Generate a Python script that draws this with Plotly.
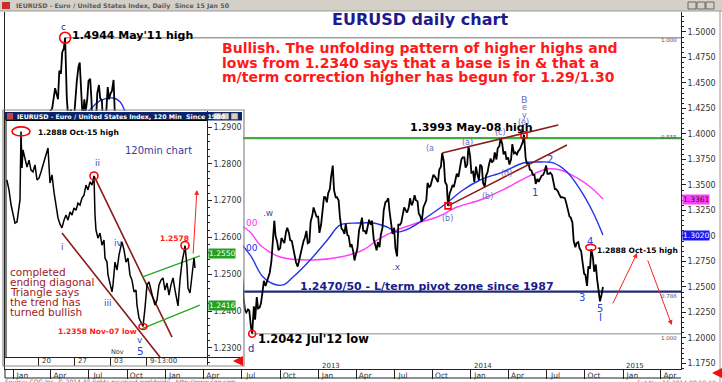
import plotly.graph_objects as go
import pandas as pd

W, H = 722, 382
FONT = "DejaVu Sans"
NAVY = "#1c1c8c"
RED = "#ff1a1a"
PURP = "#6c6cc0"
WAVE = "#2a46e0"
BROWN = "#8b1a1a"

# ---------------- main daily chart: Monday / Thursday readings ----------------
main_start = "2011-03-28"
main_week_pairs = [
    # 2011 Mar 28 .. Apr 25
    (1.4080, 1.4230), (1.4250, 1.4330), (1.4450, 1.4400), (1.4340, 1.4620), (1.4590, 1.4800),
    # May 2 .. May 30
    (1.4840, 1.4944), (1.4350, 1.4180), (1.4180, 1.4240), (1.3980, 1.4140), (1.4390, 1.4520),
    # Jun 6 .. Jun 27
    (1.4660, 1.4700), (1.4380, 1.4130), (1.4340, 1.4220), (1.4340, 1.4520),
    # Jul 4 .. Jul 25
    (1.4540, 1.4340), (1.3900, 1.4160), (1.4130, 1.4400), (1.4480, 1.4350),
    # Aug 1 .. Aug 29
    (1.4330, 1.4080), (1.4220, 1.4180), (1.4460, 1.4340), (1.4400, 1.4420), (1.4530, 1.4200),
    # Sep 5 .. Sep 26
    (1.3960, 1.3880), (1.3660, 1.3790), (1.3680, 1.3480), (1.3560, 1.3600),
    # Oct 3 .. Oct 31
    (1.3250, 1.3400), (1.3620, 1.3700), (1.3760, 1.3740), (1.3900, 1.4180), (1.3700, 1.3650),
    # Nov 7 .. Nov 28
    (1.3790, 1.3520), (1.3620, 1.3460), (1.3480, 1.3350), (1.3330, 1.3500),
    # Dec 5 .. Dec 26
    (1.3410, 1.3360), (1.3200, 1.3000), (1.3050, 1.3060), (1.3040, 1.2900),
    # 2012 Jan 2 .. Jan 30
    (1.2940, 1.2790), (1.2750, 1.2760), (1.2680, 1.2930), (1.3000, 1.3080), (1.3100, 1.3150),
    # Feb 6 .. Feb 27
    (1.3150, 1.3250), (1.3150, 1.3090), (1.3250, 1.3380), (1.3420, 1.3320),
    # Mar 5 .. Mar 26
    (1.3180, 1.3200), (1.3100, 1.3180), (1.3240, 1.3290), (1.3380, 1.3310),
    # Apr 2 .. Apr 30
    (1.3330, 1.3080), (1.3090, 1.3160), (1.3100, 1.3180), (1.3170, 1.3230), (1.3200, 1.3070),
    # May 7 .. May 28
    (1.3020, 1.2940), (1.2820, 1.2660), (1.2700, 1.2620), (1.2520, 1.2370),
    # Jun 4 .. Jun 25
    (1.2450, 1.2560), (1.2510, 1.2630), (1.2660, 1.2560), (1.2500, 1.2480),
    # Jul 2 .. Jul 30
    (1.2610, 1.2400), (1.2270, 1.2250), (1.2280, 1.2270), (1.2110, 1.2042), (1.2310, 1.2180),
    # Aug 6 .. Aug 27
    (1.2400, 1.2290), (1.2300, 1.2340), (1.2460, 1.2560), (1.2510, 1.2550),
    # Sep 3 .. Sep 24
    (1.2600, 1.2640), (1.2750, 1.2920), (1.3150, 1.3000), (1.2940, 1.2860),
    # Oct 1 .. Oct 29
    (1.2880, 1.2980), (1.2950, 1.2930), (1.3040, 1.3080), (1.3030, 1.2960), (1.2950, 1.2890),
    # Nov 5 .. Nov 26
    (1.2790, 1.2740), (1.2700, 1.2760), (1.2820, 1.2880), (1.2950, 1.2980),
    # Dec 3 .. Dec 31
    (1.3050, 1.2930), (1.2940, 1.3140), (1.3200, 1.3280), (1.3230, 1.3190), (1.3190, 1.3030),
    # 2013 Jan 7 .. Jan 28
    (1.3110, 1.3260), (1.3380, 1.3380), (1.3330, 1.3420), (1.3460, 1.3580),
    # Feb 4 .. Feb 25
    (1.3690, 1.3450), (1.3380, 1.3380), (1.3350, 1.3190), (1.3070, 1.3060),
    # Mar 4 .. Mar 25
    (1.3020, 1.3120), (1.3010, 1.3000), (1.2890, 1.2920), (1.2850, 1.2760),
    # Apr 1 .. Apr 29
    (1.2850, 1.2880), (1.3060, 1.3100), (1.3180, 1.3050), (1.3050, 1.3020), (1.3100, 1.3160),
    # May 6 .. May 27
    (1.3110, 1.3150), (1.2970, 1.2910), (1.2860, 1.2940), (1.2890, 1.3010),
    # Jun 3 .. Jun 24
    (1.3080, 1.3250), (1.3330, 1.3340), (1.3370, 1.3240), (1.3110, 1.3020),
    # Jul 1 .. Jul 29
    (1.3080, 1.2880), (1.2800, 1.3110), (1.3110, 1.3130), (1.3220, 1.3280), (1.3250, 1.3230),
    # Aug 5 .. Aug 26
    (1.3280, 1.3370), (1.3300, 1.3330), (1.3400, 1.3350), (1.3340, 1.3220),
    # Sep 2 .. Sep 30
    (1.3190, 1.3140), (1.3280, 1.3310), (1.3350, 1.3520), (1.3480, 1.3490), (1.3540, 1.3600),
    # Oct 7 .. Oct 28
    (1.3580, 1.3560), (1.3530, 1.3650), (1.3680, 1.3814), (1.3730, 1.3530),
    # Nov 4 .. Nov 25
    (1.3500, 1.3295), (1.3420, 1.3450), (1.3500, 1.3480), (1.3560, 1.3610),
    # Dec 2 .. Dec 30
    (1.3580, 1.3670), (1.3750, 1.3770), (1.3770, 1.3670), (1.3700, 1.3880), (1.3780, 1.3620),
    # 2014 Jan 6 .. Jan 27
    (1.3630, 1.3530), (1.3680, 1.3610), (1.3550, 1.3700), (1.3680, 1.3520),
    # Feb 3 .. Feb 24
    (1.3480, 1.3590), (1.3630, 1.3700), (1.3760, 1.3720), (1.3740, 1.3820),
    # Mar 3 .. Mar 31
    (1.3750, 1.3860), (1.3880, 1.3960), (1.3900, 1.3800), (1.3830, 1.3750), (1.3770, 1.3700),
    # Apr 7 .. Apr 28
    (1.3750, 1.3900), (1.3810, 1.3820), (1.3800, 1.3830), (1.3850, 1.3880),
    # May 5 .. May 26
    (1.3920, 1.3993), (1.3760, 1.3710), (1.3710, 1.3650), (1.3640, 1.3600),
    # Jun 2 .. Jun 30
    (1.3600, 1.3510), (1.3560, 1.3530), (1.3570, 1.3590), (1.3600, 1.3630), (1.3690, 1.3610),
    # Jul 7 .. Jul 28
    (1.3610, 1.3620), (1.3600, 1.3530), (1.3460, 1.3460), (1.3440, 1.3410),
    # Aug 4 .. Aug 25
    (1.3380, 1.3380), (1.3370, 1.3370), (1.3310, 1.3250), (1.3190, 1.3180),
    # Sep 1 .. Sep 29
    (1.3130, 1.2950), (1.2890, 1.2930), (1.2940, 1.2880), (1.2850, 1.2750), (1.2630, 1.2620),
    # Oct 6 .. Oct 27
    (1.2510, 1.2700), (1.2680, 1.2870), (1.2790, 1.2650), (1.2720, 1.2580),
    # Nov 3 .. Nov 10
    (1.2480, 1.2360), (1.2430, 1.2500),
]

ma_blue_dates = ["2011-06-10", "2011-07-03", "2011-07-27", "2011-08-28", "2011-09-14", "2011-09-26",
                 "2011-10-20", "2011-12-15", "2012-02-15", "2012-04-15", "2012-06-10", "2012-07-21",
                 "2012-08-19", "2012-09-15", "2012-10-08", "2012-11-01", "2012-12-12", "2013-01-22",
                 "2013-02-22", "2013-04-04", "2013-05-12", "2013-06-14", "2013-07-08", "2013-08-08",
                 "2013-09-25", "2013-11-04", "2013-12-13", "2014-01-23", "2014-03-18", "2014-05-06",
                 "2014-06-09", "2014-07-17", "2014-08-19", "2014-09-20", "2014-10-21", "2014-11-13"]
ma_blue_vals = [1.4137, 1.4235, 1.4324, 1.4353, 1.4314, 1.4216,
                1.3980, 1.3600, 1.3200, 1.3150, 1.3000, 1.2814,
                1.2608, 1.2529, 1.2520, 1.2598, 1.2765, 1.2961,
                1.3108, 1.3127, 1.3127, 1.3088, 1.3039, 1.3078,
                1.3206, 1.3324, 1.3451, 1.3549, 1.3627, 1.3716,
                1.3725, 1.3716, 1.3627, 1.3451, 1.3225, 1.3010]

ma_mag_dates = ["2012-05-01", "2012-07-21", "2012-08-14", "2012-10-01", "2012-12-20", "2013-02-22",
                "2013-04-18", "2013-05-22", "2013-07-08", "2013-08-25", "2013-10-12", "2013-11-29",
                "2014-01-23", "2014-03-18", "2014-05-15", "2014-07-02", "2014-08-03", "2014-09-12",
                "2014-10-14", "2014-11-13"]
ma_mag_vals = [1.3250, 1.3039, 1.2912, 1.2794, 1.2765, 1.2794,
               1.2863, 1.2961, 1.3059, 1.3127, 1.3186, 1.3284,
               1.3353, 1.3451, 1.3578, 1.3657, 1.3647, 1.3569,
               1.3480, 1.3363]

# key levels / points
may11_high_date, may11_high = "2011-05-05", 1.4944
jul12_low_date, jul12_low = "2012-07-26", 1.2042
may14_high_date, may14_high = "2014-05-08", 1.3993
b_low_date, b_low = "2013-11-07", 1.3295
oct15_date, oct15_high = "2014-10-15", 1.2888
green_level = 1.3960
pivot_level = 1.2455
levels_start = "2012-01-01"
main_x_range = ["2010-12-12", "2015-05-19"]
main_y_range = [1.1696, 1.5196]

upper_brown_x, upper_brown_y = ["2013-10-24", "2014-07-29"], [1.3814, 1.4088]
lower_brown_x, lower_brown_y = ["2013-11-07", "2014-08-19"], [1.3295, 1.3892]
proj_up = (["2014-12-05", "2015-02-03"], [1.2324, 1.2833])
proj_down = (["2015-02-27", "2015-04-27"], [1.2775, 1.2127])

main_yticks = [1.1750, 1.2000, 1.2250, 1.2500, 1.2750, 1.3000, 1.3250, 1.3500,
               1.3750, 1.4000, 1.4250, 1.4500, 1.4750, 1.5000]
main_xticks = ["2011-01-01", "2011-04-01", "2011-07-01", "2011-10-01",
               "2012-01-01", "2012-04-01", "2012-07-01", "2012-10-01",
               "2013-01-01", "2013-04-01", "2013-07-01", "2013-10-01",
               "2014-01-01", "2014-04-01", "2014-07-01", "2014-10-01",
               "2015-01-01", "2015-04-01"]
main_xticktext = ["Jan", "Apr", "Jul", "Oct"] * 4 + ["Jan", "Apr"]
year_labels = ["2013", "2014", "2015"]
year_dates = ["2013-01-01", "2014-01-01", "2015-01-01"]

# ---------------- inset: 120 min chart ----------------
inset_times = [
    "2014-10-13 13:00", "2014-10-13 20:00", "2014-10-14 03:00", "2014-10-14 09:20", "2014-10-14 16:00",
    "2014-10-14 22:40", "2014-10-15 05:20", "2014-10-15 08:40", "2014-10-15 12:00", "2014-10-15 15:20",
    "2014-10-15 18:40", "2014-10-16 01:20", "2014-10-16 08:00", "2014-10-16 14:40", "2014-10-16 21:20",
    "2014-10-17 04:00", "2014-10-17 10:40", "2014-10-17 17:20", "2014-10-20 00:00", "2014-10-20 06:40",
    "2014-10-20 13:20", "2014-10-20 20:00", "2014-10-21 02:40", "2014-10-21 06:00", "2014-10-21 12:40",
    "2014-10-21 19:20", "2014-10-22 02:00", "2014-10-22 08:40", "2014-10-22 15:20", "2014-10-22 22:00",
    "2014-10-23 04:40", "2014-10-23 11:20", "2014-10-23 18:00", "2014-10-24 00:40", "2014-10-24 07:20",
    "2014-10-24 14:00", "2014-10-24 20:40", "2014-10-27 03:20", "2014-10-27 10:00", "2014-10-27 16:40",
    "2014-10-27 23:20", "2014-10-28 06:00", "2014-10-28 12:40", "2014-10-28 19:20", "2014-10-29 02:00",
    "2014-10-29 08:40", "2014-10-29 15:20", "2014-10-29 18:40", "2014-10-29 22:00", "2014-10-30 04:40",
    "2014-10-30 11:20", "2014-10-30 18:00", "2014-10-31 00:40", "2014-10-31 04:00", "2014-10-31 10:40",
    "2014-10-31 14:00", "2014-10-31 20:40", "2014-11-03 03:20", "2014-11-03 06:40", "2014-11-03 13:20",
    "2014-11-03 20:00", "2014-11-04 02:40", "2014-11-04 09:20", "2014-11-04 12:40", "2014-11-04 19:20",
    "2014-11-05 02:00", "2014-11-05 08:40", "2014-11-05 15:20", "2014-11-05 22:00", "2014-11-06 04:40",
    "2014-11-06 11:20", "2014-11-06 14:40", "2014-11-06 21:20", "2014-11-07 04:00", "2014-11-07 10:40",
    "2014-11-07 17:20", "2014-11-10 00:00", "2014-11-10 06:40", "2014-11-10 13:20", "2014-11-10 20:00",
    "2014-11-11 02:40", "2014-11-11 09:20", "2014-11-11 16:00", "2014-11-11 22:40", "2014-11-12 05:20",
    "2014-11-12 12:00", "2014-11-12 18:40", "2014-11-13 01:20", "2014-11-13 08:00", "2014-11-13 14:40",
    "2014-11-13 21:20", "2014-11-14 04:00", "2014-11-14 07:20", "2014-11-14 14:00", "2014-11-14 20:40",
    "2014-11-17 03:20", "2014-11-17 06:40", "2014-11-17 13:20", "2014-11-17 16:40", "2014-11-17 23:20",
    "2014-11-18 06:00", "2014-11-18 12:40", "2014-11-18 16:00",
]
inset_vals = [
    1.2756, 1.2729, 1.2688, 1.2661, 1.2639, 1.2642, 1.2674, 1.2702, 1.2888, 1.2789,
    1.2838, 1.2818, 1.2791, 1.2810, 1.2783, 1.2778, 1.2797, 1.2756, 1.2761, 1.2778,
    1.2797, 1.2816, 1.2832, 1.2843, 1.2748, 1.2770, 1.2723, 1.2683, 1.2653, 1.2636,
    1.2626, 1.2647, 1.2661, 1.2647, 1.2669, 1.2661, 1.2680, 1.2674, 1.2693, 1.2688,
    1.2707, 1.2715, 1.2742, 1.2729, 1.2751, 1.2742, 1.2767, 1.2661, 1.2620, 1.2598,
    1.2612, 1.2579, 1.2593, 1.2544, 1.2533, 1.2498, 1.2471, 1.2452, 1.2471, 1.2533,
    1.2511, 1.2552, 1.2577, 1.2588, 1.2566, 1.2533, 1.2544, 1.2498, 1.2484, 1.2452,
    1.2457, 1.2416, 1.2381, 1.2370, 1.2358, 1.2408, 1.2471, 1.2479, 1.2452, 1.2435,
    1.2416, 1.2430, 1.2471, 1.2484, 1.2490, 1.2457, 1.2476, 1.2443, 1.2471, 1.2490,
    1.2457, 1.2430, 1.2414, 1.2484, 1.2533, 1.2560, 1.2578, 1.2520, 1.2462, 1.2449,
    1.2498, 1.2544, 1.2517,
]
inset_oct15 = ("2014-10-15 12:00", 1.2888)
inset_ii = ("2014-10-29 15:20", 1.2767)
inset_low = ("2014-11-07 10:40", 1.2358)
inset_high2 = ("2014-11-17 06:40", 1.2578)
inset_brown_low = (["2014-10-23 04:40", "2014-11-11 19:12"], [1.2612, 1.2275])
inset_brown_up = (["2014-10-29 15:20", "2014-11-13 11:20"], [1.2767, 1.2329])
inset_green_up = (["2014-11-07 07:20", "2014-11-19 08:00"], [1.2492, 1.2550])
inset_green_low = (["2014-11-07 07:20", "2014-11-19 08:00"], [1.2352, 1.2416])
inset_arrow = (["2014-11-18 09:36", "2014-11-18 22:30"], [1.2552, 1.2729])
inset_x_range = ["2014-10-13 06:43", "2014-11-27 08:00"]
inset_y_range = [1.22533, 1.29435]
inset_yticks = [1.2300, 1.2400, 1.2500, 1.2600, 1.2700, 1.2800, 1.2900]
inset_xticks = ["2014-10-20", "2014-10-27", "2014-11-03", "2014-11-10"]
inset_xticktext = ["20", "27", "03", "9-13:00"]

# ---------------- build figure ----------------
main_dates, main_vals = [], []
for i, (a, b) in enumerate(main_week_pairs):
    mon = pd.Timestamp(main_start) + pd.Timedelta(weeks=i)
    main_dates += [mon, mon + pd.Timedelta(days=3)]
    main_vals += [a, b]

def fx(x):
    return x / W

def fy(y):
    return 1 - y / H

fig = go.Figure()

def line(x, y, color, width, xa="x", ya="y", dash=None, shape="linear"):
    fig.add_trace(go.Scatter(x=x, y=y, mode="lines", xaxis=xa, yaxis=ya, hoverinfo="skip",
                             line=dict(color=color, width=width, dash=dash, shape=shape)))

# main level lines
line([may11_high_date, main_x_range[1]], [may11_high] * 2, "#a0a0a0", 1.5)
line([levels_start, main_x_range[1]], [green_level] * 2, "#3fae3f", 2.2)
line([levels_start, main_x_range[1]], [pivot_level] * 2, "#1f2a7a", 2.2)
line([jul12_low_date, main_x_range[1]], [jul12_low] * 2, "#b0b0b0", 1.5)
# moving averages
line(ma_mag_dates, ma_mag_vals, "#ff3cff", 1.4, shape="spline")
line(ma_blue_dates, ma_blue_vals, "#2233ee", 1.4, shape="spline")
# price
line(main_dates, main_vals, "black", 1.8)
# channel lines
line(upper_brown_x, upper_brown_y, BROWN, 1.5)
line(lower_brown_x, lower_brown_y, BROWN, 1.5)
# markers
fig.add_trace(go.Scatter(x=[may11_high_date], y=[may11_high], mode="markers", hoverinfo="skip",
                         marker=dict(symbol="circle-open", size=11, color="red", line=dict(width=1.6))))
fig.add_trace(go.Scatter(x=[jul12_low_date], y=[jul12_low], mode="markers", hoverinfo="skip",
                         marker=dict(symbol="circle-open", size=7, color="red", line=dict(width=1.6))))
fig.add_trace(go.Scatter(x=[may14_high_date, b_low_date], y=[may14_high, b_low], mode="markers",
                         hoverinfo="skip",
                         marker=dict(symbol="square-open", size=6, color="red", line=dict(width=1.6))))

# inset traces
line(inset_brown_low[0], inset_brown_low[1], BROWN, 1.6, "x2", "y2")
line(inset_brown_up[0], inset_brown_up[1], BROWN, 1.6, "x2", "y2")
line(inset_green_up[0], inset_green_up[1], "#22aa22", 1.3, "x2", "y2")
line(inset_green_low[0], inset_green_low[1], "#22aa22", 1.3, "x2", "y2")
line(inset_times, inset_vals, "black", 1.5, "x2", "y2")
fig.add_trace(go.Scatter(x=[inset_ii[0], inset_high2[0]], y=[inset_ii[1], inset_high2[1]],
                         mode="markers", xaxis="x2", yaxis="y2", hoverinfo="skip",
                         marker=dict(symbol="circle-open", size=8, color="red", line=dict(width=1.6))))

# ---------------- annotations ----------------
ann = []

def T(text, x, y, size, color, bold=False, xa="left", ya="middle", bg=None):
    d = dict(text=f"<b>{text}</b>" if bold else text, x=fx(x), y=fy(y), xref="paper", yref="paper",
             xanchor=xa, yanchor=ya, showarrow=False, borderpad=0,
             font=dict(size=size, color=color, family=FONT))
    if bg:
        d["bgcolor"] = bg
    ann.append(d)

# window captions
T("IEURUSD - Euro / United States Index, Daily  Since 15 Jan 50", 15, 5.5, 6.3, "#5a5a5a", True)
T("IEURUSD - Euro / United States Index, 120 Min  Since 1900", 16, 116.5, 6.3, "white", True)

T("EURUSD daily chart", 420, 20, 16, NAVY, True, xa="center")
T("Bullish. The unfolding pattern of higher highs and", 221, 48, 14, RED, True)
T("lows from 1.2340 says that a base is in &amp; that a", 221, 63, 14, RED, True)
T("m/term correction higher has begun for 1.29/1.30", 221, 77, 14, RED, True)
T("1.4944 May'11 high", 71, 35, 11, "black", True)
T("c", 63, 27, 9, "#2030a0", xa="center")
T("1.3993 May-08 high", 409, 127, 11, "black", True)
T("1.2470/50 - L/term pivot zone since 1987", 299, 286, 11, NAVY, True)
T("1.2042 Jul'12 low", 257, 339, 11.5, "black", True)
T("d", 251, 348, 10, "#2030a0", xa="center")
T(".w", 268, 213, 9, "#4050a0", xa="center")
T(".x", 396, 267, 9, "#4050a0", xa="center")
T("00", 245, 223, 9, "#ff2cff")
T("00", 245, 248, 9, "#2233ee")
for s, x, y in [("(a", 430, 149), ("(a)", 467, 142), ("(c)", 500, 132), ("(b)", 447, 218),
                ("(b)", 487, 197), ("(d)", 507, 173), ("(e)", 523, 123), ("y", 524, 115),
                ("e", 524, 107)]:
    T(s, x, y, 8, PURP, xa="center")
T("B", 524, 99, 9.5, PURP, xa="center")
for s, x, y in [("1", 535, 192), ("2", 550, 159), ("3", 582, 297), ("4", 590, 242),
                ("5", 600, 308), ("I", 600, 317)]:
    T(s, x, y, 10, WAVE, xa="center")
T("1.2888 Oct-15 high", 596, 250, 7.5, "black", True)
for s, y in [("1.000", 40), ("0.555", 137), ("0.786", 296), ("1.000", 338)]:
    T(s, 678, y, 5.5, "#555", xa="right")
T("1.3361", 682, 199, 7.5, "#202020", bg="#ff3cff")
T("1.3020", 682, 235, 7.5, "white", bg="#1a1aee")

# inset texts
T("1.2888 Oct-15 high", 37, 132, 7.5, "black", True)
T("120min chart", 124, 150, 10, "#3a3a9a")
for s, x, y in [("ii", 97, 163), ("i", 62, 247), ("iv", 118, 243), ("iii", 108, 303),
                ("v", 140, 340)]:
    T(s, x, y, 9, "#3a4ab8", xa="center")
T("5", 140, 351, 10.5, "#2a46e0", xa="center")
T("1.2578", 159, 238, 7.5, RED, True)
T("1.2358 Nov-07 low", 57, 331, 7.5, RED, True)
for i, s in enumerate(["completed", "ending diagonal", "Triangle says", "the trend has",
                       "turned bullish"]):
    T(s, 9, 272 + 10 * i, 10.5, "#a02020")
T("1.2550", 208, 253, 7.5, "white", bg="#22a022")
T("1.2416", 208, 305, 7.5, "white", bg="#22a022")
T("Nov", 117, 352, 6.5, "#333", xa="center")
for d, s in zip(inset_xticks, inset_xticktext):
    ann.append(dict(text=s, x=d, y=fy(361), xref="x2", yref="paper", xanchor="left",
                    yanchor="middle", xshift=1, showarrow=False,
                    font=dict(size=7, color="#333", family=FONT)))
for d, s in zip(year_dates, year_labels):
    ann.append(dict(text=s, x=d, y=fy(366), xref="x", yref="paper", xanchor="left",
                    yanchor="middle", xshift=1, showarrow=False,
                    font=dict(size=7, color="#333", family=FONT)))
# footer
T("Source: CQG Inc. © 2014 All rights reserved worldwide.  http://www.cqg.com", 4, 382, 6, "#666", ya="middle")
T("Sat Nov 15 2014 08:59:19", 717, 382, 6, "#666", xa="right", ya="middle")

# arrows
for (xs, ys) in [proj_up, proj_down]:
    ann.append(dict(x=xs[1], y=ys[1], ax=xs[0], ay=ys[0], xref="x", yref="y", axref="x", ayref="y",
                    text="", showarrow=True, arrowhead=2, arrowsize=1, arrowwidth=1,
                    arrowcolor="#ff2020"))
ann.append(dict(x=inset_arrow[0][1], y=inset_arrow[1][1], ax=inset_arrow[0][0], ay=inset_arrow[1][0],
                xref="x2", yref="y2", axref="x2", ayref="y2", text="", showarrow=True,
                arrowhead=2, arrowsize=1, arrowwidth=1, arrowcolor="#ff2020"))
for px_, py_ in [(233, 361), (712, 373)]:
    ann.append(dict(x=fx(px_), y=fy(py_), xref="paper", yref="paper", ax=9, ay=0, text="",
                    showarrow=True, arrowhead=2, arrowsize=0.8, arrowwidth=2.5, arrowcolor="#ee1010"))

# ---------------- shapes (window chrome) ----------------
shapes = []

def R(x0, y0, x1, y1, fill=None, lc=None, lw=1, layer="above"):
    shapes.append(dict(type="rect", xref="paper", yref="paper", x0=fx(x0), x1=fx(x1), y0=fy(y0),
                       y1=fy(y1), fillcolor=fill, layer=layer,
                       line=dict(color=lc or "rgba(0,0,0,0)", width=lw if lc else 0)))

def L(x0, y0, x1, y1, c="black", w=1):
    shapes.append(dict(type="line", xref="paper", yref="paper", x0=fx(x0), x1=fx(x1), y0=fy(y0),
                       y1=fy(y1), layer="above", line=dict(color=c, width=w)))

R(0, 0, 722, 11, fill="#d4d0c8")
L(0, 11, 722, 11, "#9a9a9a")
R(2, 2, 10, 9, fill="#c83030")
for bx in (688, 697, 706):
    R(bx, 2, bx + 8, 9, fill="#d4d0c8", lc="#404040", lw=0.7)
L(5, 378, 681, 378, "#222")
L(5, 369, 5, 378, "#222")
L(720, 11, 720, 382, "#9a9a9a")
# inset window
R(3, 110, 244, 366, lc="#8a8a8a", lw=1.2)
R(5, 112, 242, 120.5, fill="#0a246a")
R(7, 113, 13, 119.5, fill="#d04040")
for bx in (214, 222, 231):
    R(bx, 113, bx + 7, 119.5, fill="#d4d0c8", lc="#404040", lw=0.6)
L(6, 120.5, 6, 357)
L(6, 120.5, 207, 120.5)

# ovals anchored to data points
for xr, yr, (xv, yv), hw, hh in [("x", "y", (oct15_date, oct15_high), 5, 3),
                                  ("x2", "y2", inset_oct15, 9, 4.5),
                                  ("x2", "y2", inset_low, 4, 3)]:
    shapes.append(dict(type="circle", xref=xr, yref=yr, xsizemode="pixel", ysizemode="pixel",
                       xanchor=xv, yanchor=yv, x0=-hw, x1=hw, y0=-hh, y1=hh,
                       line=dict(color="red", width=1.6)))

fig.update_layout(
    width=W, height=H, margin=dict(l=0, r=0, t=0, b=0, pad=0), autosize=False,
    paper_bgcolor="white", plot_bgcolor="white", showlegend=False,
    annotations=ann, shapes=shapes,
    xaxis=dict(domain=[fx(5), fx(681)], range=main_x_range, type="date", anchor="y",
               tickvals=main_xticks, ticktext=main_xticktext, ticks="outside", ticklen=9,
               tickcolor="#222", tickwidth=1, showline=True, linecolor="#222", linewidth=1,
               showgrid=False, zeroline=False, tickfont=dict(size=7.5, family=FONT, color="#333"),
               ticklabelstandoff=-10, ticklabelshift=9),
    yaxis=dict(domain=[fy(369), fy(12)], range=main_y_range, anchor="x", side="right",
               tickvals=main_yticks, tickformat=".4f", ticks="outside", ticklen=4, tickcolor="#222",
               showline=True, linecolor="#222", mirror=True, showgrid=False, zeroline=False,
               tickfont=dict(size=8, family=FONT, color="#333"),
               minor=dict(ticks="outside", ticklen=2, dtick=0.005, tickcolor="#222")),
    xaxis2=dict(domain=[fx(5), fx(243)], range=inset_x_range, type="date", anchor="free",
                position=fy(357), rangebreaks=[dict(bounds=["sat", "mon"])],
                tickvals=inset_xticks, showticklabels=False, ticks="outside", ticklen=8,
                tickcolor="#222", showline=True, linecolor="#222", showgrid=False, zeroline=False),
    yaxis2=dict(domain=[fy(365), fy(111)], range=inset_y_range, anchor="free", position=fx(207),
                side="right", tickvals=inset_yticks, tickformat=".4f", ticks="outside", ticklen=4,
                tickcolor="#222", showline=True, linecolor="#222", showgrid=False, zeroline=False,
                tickfont=dict(size=8, family=FONT, color="#333"),
                minor=dict(ticks="outside", ticklen=2, dtick=0.002, tickcolor="#222")),
)

fig.write_html("out.html", config={"displayModeBar": False, "staticPlot": True}, post_script=(
    "document.documentElement.style.margin='0';document.body.style.margin='0';"
    "document.body.style.padding='0';document.body.style.overflow='hidden';"))
